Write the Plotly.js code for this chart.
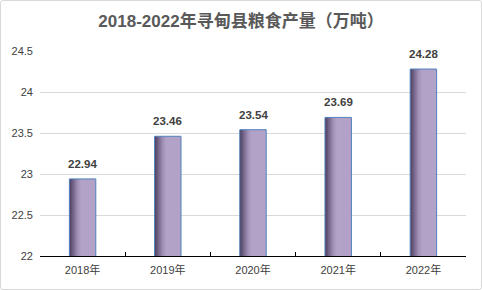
<!DOCTYPE html>
<html><head><meta charset="utf-8">
<script src="https://cdn.plot.ly/plotly-3.0.1.min.js"></script>
<style>
html,body{margin:0;padding:0;background:#fff;}
#wrap{position:relative;width:482px;height:290px;}
#chart{width:482px;height:290px;}
#frame{position:absolute;left:0;top:0;width:482px;height:290px;box-sizing:border-box;border:1px solid #d9d9d9;border-radius:3px;pointer-events:none;}
</style></head>
<body>
<div id="wrap"><div id="chart"></div><div id="frame"></div></div>
<script>
const categories = ['2018年','2019年','2020年','2021年','2022年'];
const values = [22.94, 23.46, 23.54, 23.69, 24.28];
const labels = ['22.94','23.46','23.54','23.69','24.28'];
const yTicks = [22, 22.5, 23, 23.5, 24, 24.5];
const yTickText = ['22','22.5','23','23.5','24','24.5'];

const fontFam = 'Liberation Sans, Noto Sans CJK SC, sans-serif';

const trace = {
  type: 'bar',
  x: categories,
  y: values,
  marker: {color: '#b3a2c7', line: {color: '#4f81bd', width: 1}},
  hoverinfo: 'none'
};

const annotations = categories.map(function(c, i){
  return {
    x: c, y: values[i], xref: 'x', yref: 'y',
    text: '<b>' + labels[i] + '</b>', showarrow: false,
    yanchor: 'bottom', yshift: 7,
    font: {family: fontFam, size: 11.5, color: '#404040'}
  };
});

const layout = {
  width: 482, height: 290,
  margin: {l: 40, r: 16, t: 51, b: 34},
  paper_bgcolor: '#ffffff', plot_bgcolor: '#ffffff',
  showlegend: false,
  bargap: 0.69,
  annotations: annotations,
  title: {text: '<b>2018-2022年寻甸县粮食产量（万吨）</b>', x: 0.5, xanchor: 'center', y: 0.928, yanchor: 'middle',
          font: {family: fontFam, size: 17, color: '#595959'}},
  xaxis: {
    showline: true, linecolor: '#000000', linewidth: 1,
    ticks: 'inside', tickson: 'boundaries', ticklen: 4, tickcolor: '#000000',
    showgrid: false, zeroline: false, ticklabelstandoff: 4,
    tickfont: {family: fontFam, size: 11, color: '#404040'}
  },
  yaxis: {
    range: [22, 24.5], tickvals: yTicks, ticktext: yTickText,
    showline: false, ticks: '', showgrid: true, gridcolor: '#d9d9d9', gridwidth: 1,
    zeroline: false, ticklabelstandoff: 6,
    tickfont: {family: fontFam, size: 11, color: '#404040'}
  }
};

Plotly.newPlot('chart', [trace], layout, {staticPlot: true, displayModeBar: false}).then(function(gd){
  const svg = gd.querySelector('svg.main-svg');
  const ns = 'http://www.w3.org/2000/svg';
  let defs = svg.querySelector('defs');
  if (!defs) { defs = document.createElementNS(ns, 'defs'); svg.insertBefore(defs, svg.firstChild); }
  const g = document.createElementNS(ns, 'linearGradient');
  g.setAttribute('id', 'barGrad');
  g.setAttribute('x1', '0'); g.setAttribute('y1', '0'); g.setAttribute('x2', '1'); g.setAttribute('y2', '0');
  [['0', '#4a3b5a'], ['0.12', '#6e5e82'], ['0.32', '#a392b8'], ['0.45', '#b3a2c7'], ['1', '#b3a2c7']].forEach(function(s){
    const st = document.createElementNS(ns, 'stop');
    st.setAttribute('offset', s[0]); st.setAttribute('stop-color', s[1]);
    g.appendChild(st);
  });
  defs.appendChild(g);
  gd.querySelectorAll('.bars .point path').forEach(function(p){
    p.style.fill = 'url(#barGrad)';
  });
});
</script>
</body></html>
